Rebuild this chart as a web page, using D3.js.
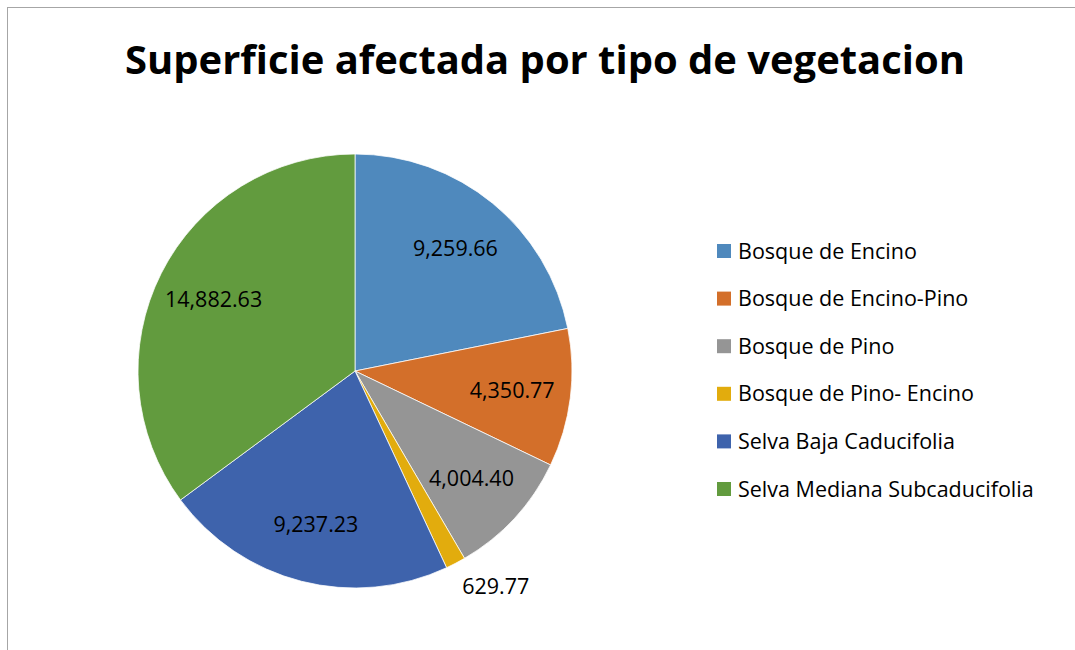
<!DOCTYPE html>
<meta charset="utf-8">
<html>
<head>
  <script src="https://cdn.jsdelivr.net/npm/d3@7"></script>
  <style>
    body { margin: 0; background: #fff; }
    text { font-family: "Open Sans", "Noto Sans", sans-serif; fill: #000; }
  </style>
</head>
<body>
<div id="chart"></div>
<script>
  // data
  var categories = ["Bosque de Encino", "Bosque de Encino-Pino", "Bosque de Pino",
                    "Bosque de Pino- Encino", "Selva Baja Caducifolia", "Selva Mediana Subcaducifolia"];
  var values = [9259.66, 4350.77, 4004.40, 629.77, 9237.23, 14882.63];
  var colors = ["#4f89bd", "#d36f2a", "#959595", "#e2ac0d", "#3e63ac", "#629b3e"];
  var title = "Superficie afectada por tipo de vegetacion";

  var W = 1075, H = 650;
  var svg = d3.select("#chart").append("svg")
      .attr("width", W).attr("height", H);

  // chart frame
  svg.append("rect")
      .attr("x", 7.5).attr("y", 7.5)
      .attr("width", W + 10).attr("height", H + 10)
      .attr("fill", "#fff")
      .attr("stroke", "#a6a6a6")
      .attr("stroke-width", 1);

  // title, sized to the width it takes in the picture
  var t = svg.append("text")
      .attr("x", 545).attr("y", 74)
      .attr("text-anchor", "middle")
      .style("font-weight", "bold")
      .style("font-size", "40px")
      .text(title);
  var tw = t.node().getComputedTextLength();
  t.style("font-size", (40 * 840 / tw) + "px");

  var cx = 355, cy = 371, r = 217;
  var g = svg.append("g").attr("transform", "translate(" + cx + "," + cy + ")");

  var data = categories.map(function (c, i) { return { name: c, value: values[i], color: colors[i] }; });
  var pie = d3.pie().sort(null).value(function (d) { return d.value; });
  var arc = d3.arc().innerRadius(0).outerRadius(r);
  var labelArc = d3.arc().innerRadius(r * 0.73).outerRadius(r * 0.73);
  var outArc = d3.arc().innerRadius(r * 1.12).outerRadius(r * 1.12);

  var arcs = pie(data);

  g.selectAll("path.slice")
      .data(arcs)
      .enter().append("path")
      .attr("class", "slice")
      .attr("d", arc)
      .attr("fill", function (d) { return d.data.color; })
      .attr("stroke", "#fff")
      .attr("stroke-width", 0.75);

  var fmt = d3.format(",.2f");
  g.selectAll("text.lbl")
      .data(arcs)
      .enter().append("text")
      .attr("class", "lbl")
      .attr("transform", function (d) {
        // small slices get their label outside, like Excel's best fit
        var small = (d.endAngle - d.startAngle) < 0.2;
        var p = small ? outArc.centroid(d) : labelArc.centroid(d);
        if (small) { p = [p[0] + 28, p[1]]; }
        return "translate(" + p[0] + "," + p[1] + ")";
      })
      .attr("dy", "0.35em")
      .attr("text-anchor", "middle")
      .style("font-size", "21.5px")
      .text(function (d) { return fmt(d.data.value); });

  // legend
  var legend = svg.append("g").attr("transform", "translate(717,251)");
  var item = legend.selectAll("g")
      .data(data)
      .enter().append("g")
      .attr("transform", function (d, i) { return "translate(0," + (i * 47.6) + ")"; });
  item.append("rect")
      .attr("x", 0).attr("y", -7)
      .attr("width", 14).attr("height", 14)
      .attr("fill", function (d) { return d.color; });
  item.append("text")
      .attr("x", 21).attr("dy", "0.35em")
      .style("font-size", "21.5px")
      .text(function (d) { return d.name; });
</script>
</body>
</html>
